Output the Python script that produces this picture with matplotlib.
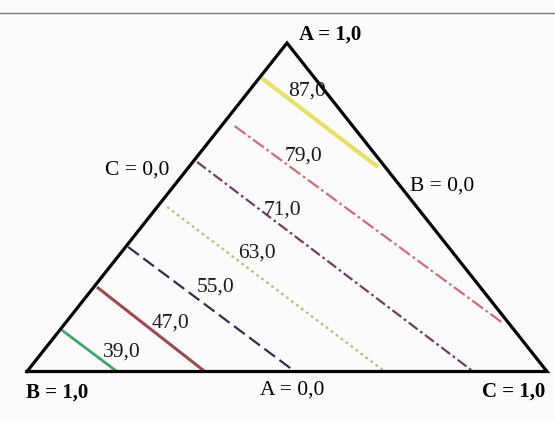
import numpy as np
import matplotlib
matplotlib.use("Agg")
import matplotlib.pyplot as plt

# --- contour levels of the response ---
levels = [39.0, 47.0, 55.0, 63.0, 71.0, 79.0, 87.0]

# end points of each iso-line as ternary fractions (A, C); B = 1 - A - C
a_start = [0.126, 0.257, 0.379, 0.501, 0.638, 0.747, 0.893]
c_start = [0.004, 0.006, 0.005, 0.019, 0.008, 0.026, 0.005]
a_end = [0.000, 0.000, 0.000, 0.000, 0.000, 0.147, 0.622]
c_end = [0.173, 0.342, 0.515, 0.688, 0.858, 0.842, 0.364]

# --- styling ---
line_colors = ["#3fa466", "#9c4a4e", "#2e2f4a", "#b9bb74", "#6e3f63", "#cf6a78", "#e6e064"]
line_styles = ["-", "-", (0, (6, 2.5)), (0, (1.2, 1.6)), (0, (5, 1.5, 1.2, 1.5)),
               (0, (6, 1.5, 1.2, 1.5)), "-"]
line_widths = [2.0, 2.2, 1.6, 1.6, 1.6, 1.6, 3.0]
# label anchors in plot coords (x, y)
label_xy = [(0.183, 0.059), (0.275, 0.148), (0.363, 0.257), (0.442, 0.361),
            (0.492, 0.492), (0.531, 0.656), (0.538, 0.854)]


def tern(a, c):
    """ternary (A, C) -> cartesian, B at (0,0), C at (1,0), A at top"""
    a = np.asarray(a, dtype=float)
    c = np.asarray(c, dtype=float)
    return c + a / 2.0, a


plt.rcParams["font.family"] = ["Liberation Serif", "DejaVu Serif"]

fig = plt.figure(figsize=(5.55, 4.21), dpi=100)
fig.patch.set_facecolor("#fbfbfb")
ax = fig.add_axes([0, 0, 1, 1])
ax.set_facecolor("#fbfbfb")
ax.set_xlim(-27 / 520, 528 / 520)
ax.set_ylim(-49.5 / 328.5, 371.5 / 328.5)
ax.axis("off")

# thin rule across the top of the page
fig.add_artist(plt.Line2D([0, 1], [0.969, 0.969], transform=fig.transFigure,
                          color="#7a7a7a", lw=1.0))

# iso-response lines
for i, lev in enumerate(levels):
    xs, ys = tern([a_start[i], a_end[i]], [c_start[i], c_end[i]])
    ax.plot(xs, ys, color=line_colors[i], ls=line_styles[i], lw=line_widths[i],
            solid_capstyle="butt", zorder=2)
    lx, ly = label_xy[i]
    ax.text(lx, ly, f"{lev:.1f}".replace(".", ","), fontsize=15.5,
            ha="center", va="center", color="#1a1a1a", zorder=4)

# triangle outline
tx, ty = tern([0, 0, 1, 0], [0, 1, 0, 0])
ax.plot(tx, ty, color="black", lw=2.3, solid_joinstyle="miter", zorder=3)

# vertex / edge annotations
ax.text(0.583, 1.027, "A = 1,0", fontsize=15, fontweight="bold", ha="center", va="center")
ax.text(0.058, -0.065, "B = 1,0", fontsize=15, fontweight="bold", ha="center", va="center")
ax.text(0.935, -0.062, "C = 1,0", fontsize=15, fontweight="bold", ha="center", va="center")
ax.text(0.510, -0.056, "A = 0,0", fontsize=15.5, ha="center", va="center")
ax.text(0.212, 0.614, "C = 0,0", fontsize=15.5, ha="center", va="center")
ax.text(0.798, 0.565, "B = 0,0", fontsize=15.5, ha="center", va="center")

fig.savefig("out.png", dpi=100, facecolor=fig.get_facecolor())
